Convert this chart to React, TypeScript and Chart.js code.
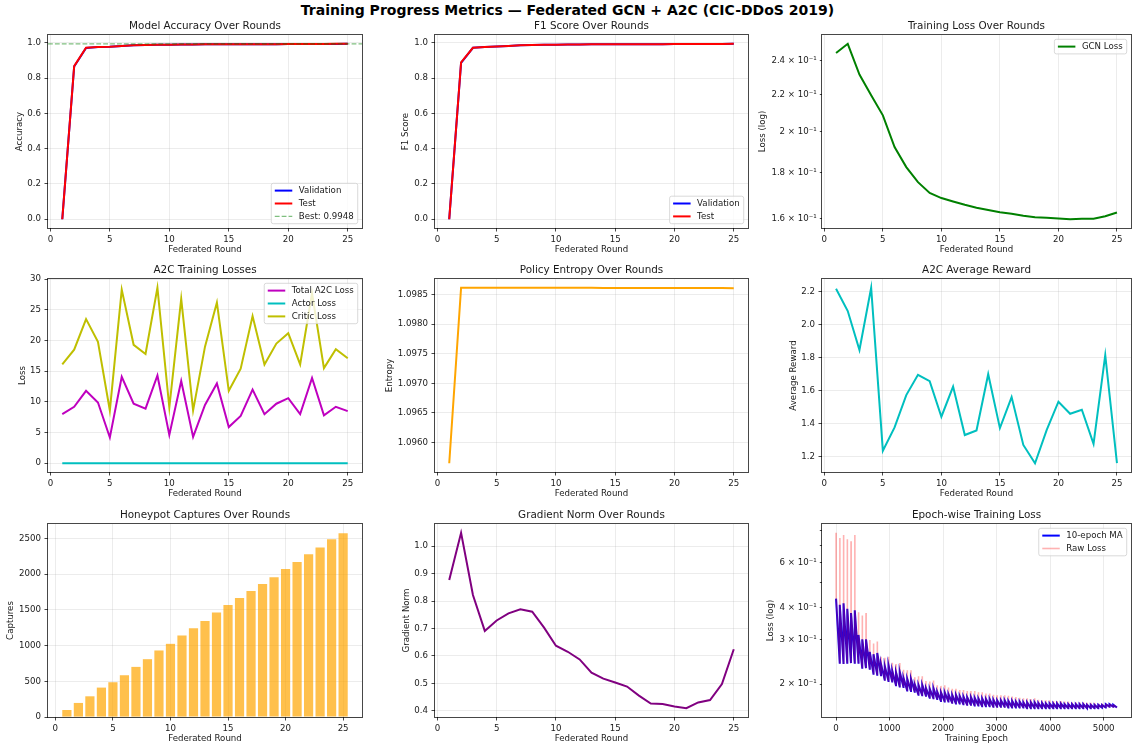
import React, { useEffect, useRef } from 'react';
import { Chart, registerables } from 'chart.js';

Chart.register(...registerables);

const FONT = "'DejaVu Sans', sans-serif";
const TXT = '#1a1a1a';
const GRID = 'rgba(176,176,176,0.3)';
const TICK = '#333333';
const LW = 2;

// ---------------- data ----------------
const ROUNDS = [1, 2, 3, 4, 5, 6, 7, 8, 9, 10, 11, 12, 13, 14, 15, 16, 17, 18, 19, 20, 21, 22, 23, 24, 25];
const ROUND_TICKS = [0, 5, 10, 15, 20, 25];

const VAL_ACC = [0.0, 0.866, 0.971, 0.977, 0.978, 0.982, 0.986, 0.988, 0.989, 0.99, 0.991, 0.991, 0.992, 0.992, 0.992, 0.993, 0.993, 0.993, 0.993, 0.994, 0.994, 0.994, 0.994, 0.994, 0.995];
const TEST_ACC = [0.0, 0.868, 0.972, 0.977, 0.978, 0.982, 0.987, 0.988, 0.989, 0.99, 0.991, 0.991, 0.992, 0.992, 0.992, 0.993, 0.993, 0.993, 0.993, 0.994, 0.994, 0.994, 0.994, 0.9945, 0.9948];
const BEST_ACC = 0.9948;
const ACC_TICKS = [0, 0.2, 0.4, 0.6, 0.8, 1.0];

const VAL_F1 = [0.0, 0.886, 0.971, 0.976, 0.978, 0.981, 0.985, 0.987, 0.988, 0.989, 0.99, 0.99, 0.991, 0.991, 0.991, 0.992, 0.992, 0.992, 0.992, 0.993, 0.993, 0.993, 0.993, 0.993, 0.994];
const TEST_F1 = [0.0, 0.888, 0.971, 0.976, 0.978, 0.981, 0.985, 0.987, 0.988, 0.989, 0.99, 0.99, 0.991, 0.991, 0.991, 0.992, 0.992, 0.992, 0.992, 0.993, 0.993, 0.993, 0.993, 0.993, 0.994];

const GCN_LOSS = [0.2445, 0.2504, 0.2314, 0.2195, 0.2085, 0.1922, 0.1826, 0.1757, 0.1709, 0.1687, 0.1672, 0.1658, 0.1646, 0.1636, 0.1627, 0.1621, 0.1612, 0.1606, 0.1604, 0.1601, 0.1598, 0.16, 0.16, 0.161, 0.1626];
const GCN_TICKS = [0.16, 0.18, 0.2, 0.22, 0.24];
const GCN_TICK_LABELS = ['1.6 × 10⁻¹', '1.8 × 10⁻¹', '2 × 10⁻¹', '2.2 × 10⁻¹', '2.4 × 10⁻¹'];

const A2C_TOTAL = [8.0, 9.2, 11.8, 9.9, 4.2, 14.1, 9.7, 8.9, 14.3, 4.6, 13.4, 4.3, 9.5, 13.0, 5.9, 7.7, 12.0, 8.0, 9.7, 10.6, 8.0, 13.9, 7.8, 9.2, 8.5];
const ACTOR_LOSS = [0.0, 0.0, 0.0, 0.0, 0.0, 0.0, 0.0, 0.0, 0.0, 0.0, 0.0, 0.0, 0.0, 0.0, 0.0, 0.0, 0.0, 0.0, 0.0, 0.0, 0.0, 0.0, 0.0, 0.0, 0.0];
const CRITIC_LOSS = [16.1, 18.5, 23.5, 19.8, 8.6, 28.3, 19.3, 17.8, 28.6, 9.1, 26.8, 8.6, 19.0, 26.2, 11.8, 15.4, 24.0, 16.1, 19.5, 21.2, 16.1, 27.7, 15.5, 18.6, 17.1];
const A2C_TICKS = [0, 5, 10, 15, 20, 25, 30];

const ENTROPY = [1.09565, 1.098612, 1.098612, 1.098612, 1.098612, 1.098612, 1.098612, 1.098612, 1.098611, 1.098611, 1.098611, 1.098611, 1.098611, 1.09861, 1.09861, 1.09861, 1.09861, 1.09861, 1.098609, 1.098609, 1.098609, 1.098608, 1.098608, 1.098607, 1.098606];
const ENTROPY_TICKS = [1.096, 1.0965, 1.097, 1.0975, 1.098, 1.0985];

const REWARD = [2.216, 2.081, 1.845, 2.222, 1.234, 1.375, 1.571, 1.694, 1.656, 1.44, 1.623, 1.329, 1.357, 1.698, 1.371, 1.559, 1.269, 1.158, 1.36, 1.531, 1.458, 1.482, 1.275, 1.813, 1.158];
const REWARD_TICKS = [1.2, 1.4, 1.6, 1.8, 2.0, 2.2];

const CAPTURES = [98, 197, 290, 412, 487, 585, 702, 810, 932, 1025, 1142, 1245, 1344, 1465, 1568, 1667, 1765, 1863, 1957, 2074, 2172, 2280, 2374, 2491, 2575];
const CAPTURE_TICKS = [0, 500, 1000, 1500, 2000, 2500];

const GRAD_NORM = [0.877, 1.049, 0.822, 0.691, 0.729, 0.755, 0.77, 0.761, 0.703, 0.637, 0.615, 0.587, 0.539, 0.517, 0.503, 0.488, 0.455, 0.426, 0.424, 0.415, 0.409, 0.43, 0.439, 0.497, 0.624];
const GRAD_TICKS = [0.4, 0.5, 0.6, 0.7, 0.8, 0.9, 1.0];

// epoch-wise loss: 75 local-training cycles of 70 epochs each
const CYCLE_LEN = 70;
const RAW_PEAK = [
  0.785, 0.748, 0.77, 0.74, 0.727, 0.77,
  0.383, 0.372, 0.38, 0.298, 0.289, 0.294, 0.256, 0.254, 0.256, 0.243, 0.24, 0.242,
  0.228, 0.227, 0.227, 0.213, 0.215, 0.215, 0.206, 0.205, 0.207, 0.198, 0.197, 0.198,
  0.194, 0.192, 0.192, 0.19, 0.19, 0.188, 0.188, 0.188, 0.186, 0.186, 0.184, 0.184,
  0.182, 0.181, 0.181, 0.181, 0.18, 0.179, 0.178, 0.177, 0.176, 0.176, 0.175, 0.176,
  0.174, 0.173, 0.173, 0.173, 0.172, 0.172, 0.172, 0.171, 0.171, 0.17, 0.17, 0.17,
  0.17, 0.169, 0.169, 0.169, 0.168, 0.168, 0.168, 0.168, 0.167,
];
const MA_PEAK = [
  0.433, 0.41, 0.415, 0.395, 0.38, 0.39,
  0.312, 0.3, 0.3, 0.268, 0.262, 0.265, 0.24, 0.236, 0.238, 0.226, 0.223, 0.224,
  0.212, 0.21, 0.21, 0.2, 0.199, 0.199, 0.193, 0.192, 0.193, 0.187, 0.186, 0.186,
  0.183, 0.182, 0.182, 0.18, 0.179, 0.178, 0.178, 0.177, 0.176, 0.176, 0.175, 0.175,
  0.174, 0.173, 0.173, 0.173, 0.172, 0.172, 0.171, 0.171, 0.17, 0.17, 0.17, 0.17,
  0.169, 0.169, 0.168, 0.168, 0.168, 0.168, 0.168, 0.167, 0.167, 0.167, 0.167, 0.167,
  0.167, 0.166, 0.166, 0.166, 0.166, 0.166, 0.167, 0.167, 0.166,
];
const MA_LOW = [
  0.243, 0.242, 0.243, 0.242, 0.243, 0.243,
  0.232, 0.231, 0.23, 0.22, 0.218, 0.217, 0.208, 0.206, 0.205, 0.198, 0.196, 0.195,
  0.189, 0.188, 0.187, 0.182, 0.181, 0.18, 0.177, 0.176, 0.175, 0.172, 0.171, 0.171,
  0.169, 0.168, 0.168, 0.167, 0.166, 0.166, 0.165, 0.165, 0.164, 0.164, 0.164, 0.163,
  0.163, 0.163, 0.163, 0.162, 0.162, 0.162, 0.162, 0.162, 0.161, 0.161, 0.161, 0.161,
  0.161, 0.161, 0.161, 0.161, 0.161, 0.161, 0.161, 0.161, 0.161, 0.161, 0.161, 0.161,
  0.161, 0.161, 0.161, 0.161, 0.162, 0.162, 0.163, 0.163, 0.162,
];
const EPOCH_TICKS = [0, 1000, 2000, 3000, 4000, 5000];
const EPOCH_Y_TICKS = [0.2, 0.3, 0.4, 0.5, 0.6, 0.7, 0.8];
const EPOCH_Y_LABELS = ['2 × 10⁻¹', '3 × 10⁻¹', '4 × 10⁻¹', '', '6 × 10⁻¹', '', ''];

// ---------------- helpers ----------------
function linLimits(vals: number[]): [number, number] {
  const mn = Math.min(...vals);
  const mx = Math.max(...vals);
  const m = (mx - mn) * 0.05;
  return [mn - m, mx + m];
}
function logLimits(vals: number[]): [number, number] {
  const a = Math.log10(Math.min(...vals));
  const b = Math.log10(Math.max(...vals));
  const m = (b - a) * 0.05;
  return [Math.pow(10, a - m), Math.pow(10, b + m)];
}
function pts(xs: number[], ys: number[]) {
  return xs.map((x, i) => ({ x, y: ys[i] }));
}
function lineDs(label: string, data: any[], color: string, order: number, extra: any = {}) {
  return {
    label,
    data,
    borderColor: color,
    backgroundColor: color,
    borderWidth: LW,
    pointRadius: 0,
    pointHoverRadius: 0,
    tension: 0,
    fill: false,
    order,
    ...extra,
  };
}

type LegendItem = { label: string; color: string; width: number; dash?: number[] };

function legendPlugin(items: LegendItem[], loc: 'upper right' | 'lower right') {
  return {
    id: 'insideLegend',
    afterDatasetsDraw(chart: any) {
      const { ctx, chartArea: a } = chart;
      const fs = 8.65;
      ctx.save();
      ctx.font = `${fs}px ${FONT}`;
      let maxW = 0;
      items.forEach((it) => {
        maxW = Math.max(maxW, ctx.measureText(it.label).width);
      });
      const padL = 3.5, hl = 17.5, gap = 6.5, padR = 4, rowH = 12.9, padY = 7.3, ax = 4.3;
      const w = padL + hl + gap + maxW + padR;
      const h = (items.length - 1) * rowH + 2 * padY;
      const x = a.right - ax - w;
      const y = loc === 'upper right' ? a.top + ax : a.bottom - ax - h;
      ctx.beginPath();
      if (ctx.roundRect) ctx.roundRect(x, y, w, h, 2);
      else ctx.rect(x, y, w, h);
      ctx.fillStyle = 'rgba(255,255,255,0.8)';
      ctx.fill();
      ctx.lineWidth = 0.9;
      ctx.strokeStyle = 'rgba(204,204,204,0.8)';
      ctx.stroke();
      items.forEach((it, i) => {
        const cy = y + padY + i * rowH;
        ctx.beginPath();
        ctx.setLineDash(it.dash || []);
        ctx.strokeStyle = it.color;
        ctx.lineWidth = it.width;
        ctx.moveTo(x + padL, cy);
        ctx.lineTo(x + padL + hl, cy);
        ctx.stroke();
        ctx.setLineDash([]);
        ctx.fillStyle = TXT;
        ctx.textBaseline = 'middle';
        ctx.textAlign = 'left';
        ctx.fillText(it.label, x + padL + hl + gap, cy + 0.5);
      });
      ctx.restore();
    },
  };
}

const framePlugin = {
  id: 'frame',
  afterDatasetsDraw(chart: any) {
    const { ctx, chartArea: a } = chart;
    ctx.save();
    ctx.strokeStyle = 'rgba(0,0,0,0.72)';
    ctx.lineWidth = 1;
    const l = Math.round(a.left) - 0.5;
    const t = Math.round(a.top) - 0.5;
    const r = Math.round(a.right) + 0.5;
    const b = Math.round(a.bottom) + 0.5;
    ctx.strokeRect(l, t, r - l, b - t);
    ctx.restore();
  },
};

type AxisSpec = {
  type: 'linear' | 'logarithmic';
  min: number;
  max: number;
  ticks: number[];
  labels: (v: number, i: number) => string;
  title: string;
  grid: boolean;
  tickLen: number;
  pad: number;
};

function buildOptions(title: string, xa: AxisSpec, ya: AxisSpec, W: number, ypt: number) {
  const tickFont = { size: 8.65, family: FONT };
  const inRange = (a: AxisSpec) => a.ticks.filter((v) => v >= a.min - 1e-12 && v <= a.max + 1e-12);
  const xt = inRange(xa);
  const yt = inRange(ya);
  return {
    responsive: false,
    maintainAspectRatio: false,
    animation: false,
    events: [],
    layout: { padding: { left: 0, right: 3, top: 0, bottom: 0 } },
    plugins: {
      legend: { display: false },
      tooltip: { enabled: false },
      title: {
        display: true,
        text: title,
        fullSize: false,
        color: TXT,
        font: { size: 10.4, family: FONT, weight: 'normal', lineHeight: 1.2 },
        padding: { top: 4, bottom: 2.52 },
      },
    },
    scales: {
      x: {
        type: xa.type,
        min: xa.min,
        max: xa.max,
        offset: false,
        afterBuildTicks: (s: any) => {
          s.ticks = xt.map((v) => ({ value: v }));
        },
        afterFit: (s: any) => {
          s.height = 28;
        },
        ticks: {
          autoSkip: false,
          maxRotation: 0,
          minRotation: 0,
          padding: xa.pad,
          color: TXT,
          font: tickFont,
          callback: (v: number) => xa.labels(v, xa.ticks.indexOf(v)),
        },
        grid: {
          display: true,
          drawOnChartArea: xa.grid,
          color: GRID,
          lineWidth: 0.8,
          drawTicks: true,
          tickLength: xa.tickLen,
          tickColor: TICK,
          tickWidth: 0.9,
          offset: false,
        },
        border: { display: false },
        title: {
          display: true,
          text: xa.title,
          color: TXT,
          font: { size: 8.65, family: FONT, lineHeight: 1.2 },
          padding: { top: 0, bottom: 1 },
        },
      },
      y: {
        type: ya.type,
        min: ya.min,
        max: ya.max,
        afterBuildTicks: (s: any) => {
          s.ticks = yt.map((v) => ({ value: v }));
        },
        afterFit: (s: any) => {
          s.width = W;
        },
        ticks: {
          autoSkip: false,
          padding: ya.pad,
          color: TXT,
          font: tickFont,
          callback: (v: number) => ya.labels(v, ya.ticks.indexOf(v)),
        },
        grid: {
          display: true,
          drawOnChartArea: ya.grid,
          color: GRID,
          lineWidth: 0.8,
          drawTicks: true,
          tickLength: ya.tickLen,
          tickColor: TICK,
          tickWidth: 0.9,
        },
        border: { display: false },
        title: {
          display: true,
          text: ya.title,
          color: TXT,
          font: { size: 8.65, family: FONT, lineHeight: 1.2 },
          padding: { top: ypt, bottom: 0 },
        },
      },
    },
  };
}

const fmt = (d: number) => (v: number) => Number(v).toFixed(d);
const intFmt = (v: number) => String(Math.round(v));

const ROUND_X = (): AxisSpec => {
  const [mn, mx] = linLimits(ROUNDS);
  return { type: 'linear', min: mn, max: mx, ticks: ROUND_TICKS, labels: intFmt, title: 'Federated Round', grid: true, tickLen: 3.5, pad: 3 };
};
const linY = (vals: number[], ticks: number[], labels: (v: number, i: number) => string, title: string): AxisSpec => {
  const [mn, mx] = linLimits(vals);
  return { type: 'linear', min: mn, max: mx, ticks, labels, title, grid: true, tickLen: 3.5, pad: 3.5 };
};

type PanelSpec = {
  key: string;
  L: number;
  T: number;
  R: number;
  B: number;
  yTitleX: number;
  build: (W: number, ypt: number) => any;
};

const PANELS: PanelSpec[] = [
  {
    key: 'acc', L: 48, T: 35, R: 362, B: 228, yTitleX: 19.3,
    build: (W, ypt) => {
      const xa = ROUND_X();
      const ya = linY([...VAL_ACC, ...TEST_ACC, BEST_ACC], ACC_TICKS, fmt(1), 'Accuracy');
      const bestLabel = `Best: ${BEST_ACC.toFixed(4)}`;
      return {
        type: 'line',
        data: {
          datasets: [
            lineDs('Validation', pts(ROUNDS, VAL_ACC), '#0000ff', 3),
            lineDs('Test', pts(ROUNDS, TEST_ACC), '#ff0000', 2),
            lineDs(bestLabel, [{ x: xa.min, y: BEST_ACC }, { x: xa.max, y: BEST_ACC }], 'rgba(0,128,0,0.5)', 1, { borderWidth: 1.3, borderDash: [4.8, 2.1] }),
          ],
        },
        options: buildOptions('Model Accuracy Over Rounds', xa, ya, W, ypt),
        plugins: [framePlugin, legendPlugin([
          { label: 'Validation', color: '#0000ff', width: LW },
          { label: 'Test', color: '#ff0000', width: LW },
          { label: bestLabel, color: 'rgba(0,128,0,0.5)', width: 1.3, dash: [4.8, 2.1] },
        ], 'lower right')],
      };
    },
  },
  {
    key: 'f1', L: 435, T: 35, R: 748, B: 228, yTitleX: 406,
    build: (W, ypt) => ({
      type: 'line',
      data: {
        datasets: [
          lineDs('Validation', pts(ROUNDS, VAL_F1), '#0000ff', 2),
          lineDs('Test', pts(ROUNDS, TEST_F1), '#ff0000', 1),
        ],
      },
      options: buildOptions('F1 Score Over Rounds', ROUND_X(), linY([...VAL_F1, ...TEST_F1], ACC_TICKS, fmt(1), 'F1 Score'), W, ypt),
      plugins: [framePlugin, legendPlugin([
        { label: 'Validation', color: '#0000ff', width: LW },
        { label: 'Test', color: '#ff0000', width: LW },
      ], 'lower right')],
    }),
  },
  {
    key: 'gcn', L: 822, T: 35, R: 1131, B: 228, yTitleX: 762.7,
    build: (W, ypt) => {
      const [mn, mx] = logLimits(GCN_LOSS);
      const ya: AxisSpec = { type: 'logarithmic', min: mn, max: mx, ticks: GCN_TICKS, labels: (_v, i) => GCN_TICK_LABELS[i] ?? '', title: 'Loss (log)', grid: false, tickLen: 2.2, pad: 3 };
      return {
        type: 'line',
        data: { datasets: [lineDs('GCN Loss', pts(ROUNDS, GCN_LOSS), '#008000', 1)] },
        options: buildOptions('Training Loss Over Rounds', ROUND_X(), ya, W, ypt),
        plugins: [framePlugin, legendPlugin([{ label: 'GCN Loss', color: '#008000', width: LW }], 'upper right')],
      };
    },
  },
  {
    key: 'a2c', L: 48, T: 279, R: 362, B: 472, yTitleX: 22.7,
    build: (W, ypt) => ({
      type: 'line',
      data: {
        datasets: [
          lineDs('Total A2C Loss', pts(ROUNDS, A2C_TOTAL), '#bf00bf', 3),
          lineDs('Actor Loss', pts(ROUNDS, ACTOR_LOSS), '#00bfbf', 2),
          lineDs('Critic Loss', pts(ROUNDS, CRITIC_LOSS), '#bfbf00', 1),
        ],
      },
      options: buildOptions('A2C Training Losses', ROUND_X(), linY([...A2C_TOTAL, ...ACTOR_LOSS, ...CRITIC_LOSS], A2C_TICKS, intFmt, 'Loss'), W, ypt),
      plugins: [framePlugin, legendPlugin([
        { label: 'Total A2C Loss', color: '#bf00bf', width: LW },
        { label: 'Actor Loss', color: '#00bfbf', width: LW },
        { label: 'Critic Loss', color: '#bfbf00', width: LW },
      ], 'upper right')],
    }),
  },
  {
    key: 'entropy', L: 435, T: 279, R: 748, B: 472, yTitleX: 390,
    build: (W, ypt) => ({
      type: 'line',
      data: { datasets: [lineDs('Entropy', pts(ROUNDS, ENTROPY), '#ffa500', 1)] },
      options: buildOptions('Policy Entropy Over Rounds', ROUND_X(), linY(ENTROPY, ENTROPY_TICKS, fmt(4), 'Entropy'), W, ypt),
      plugins: [framePlugin],
    }),
  },
  {
    key: 'reward', L: 822, T: 279, R: 1131, B: 472, yTitleX: 793.3,
    build: (W, ypt) => ({
      type: 'line',
      data: { datasets: [lineDs('Reward', pts(ROUNDS, REWARD), '#00bfbf', 1)] },
      options: buildOptions('A2C Average Reward', ROUND_X(), linY(REWARD, REWARD_TICKS, fmt(1), 'Average Reward'), W, ypt),
      plugins: [framePlugin],
    }),
  },
  {
    key: 'captures', L: 48, T: 524, R: 362, B: 717, yTitleX: 11,
    build: (W, ypt) => {
      const [xmn, xmx] = linLimits([ROUNDS[0] - 0.4, ROUNDS[ROUNDS.length - 1] + 0.4]);
      const xa: AxisSpec = { type: 'linear', min: xmn, max: xmx, ticks: ROUND_TICKS, labels: intFmt, title: 'Federated Round', grid: true, tickLen: 3.5, pad: 3 };
      const ya: AxisSpec = { type: 'linear', min: 0, max: Math.max(...CAPTURES) * 1.05, ticks: CAPTURE_TICKS, labels: intFmt, title: 'Captures', grid: true, tickLen: 3.5, pad: 3.5 };
      return {
        type: 'bar',
        data: {
          datasets: [
            {
              label: 'Captures',
              data: pts(ROUNDS, CAPTURES),
              backgroundColor: 'rgba(255,165,0,0.7)',
              borderWidth: 0,
              barPercentage: 1,
              categoryPercentage: 0.8,
            },
          ],
        },
        options: buildOptions('Honeypot Captures Over Rounds', xa, ya, W, ypt),
        plugins: [framePlugin],
      };
    },
  },
  {
    key: 'grad', L: 435, T: 524, R: 748, B: 717, yTitleX: 406.7,
    build: (W, ypt) => ({
      type: 'line',
      data: { datasets: [lineDs('Gradient Norm', pts(ROUNDS, GRAD_NORM), '#800080', 1)] },
      options: buildOptions('Gradient Norm Over Rounds', ROUND_X(), linY(GRAD_NORM, GRAD_TICKS, fmt(1), 'Gradient Norm'), W, ypt),
      plugins: [framePlugin],
    }),
  },
  {
    key: 'epoch', L: 822, T: 524, R: 1131, B: 717, yTitleX: 770.7,
    build: (W, ypt) => {
      const maPts: { x: number; y: number }[] = [];
      const rawPts: { x: number; y: number }[] = [];
      MA_PEAK.forEach((pk, c) => {
        const s = c * CYCLE_LEN;
        const e = s + CYCLE_LEN - 1;
        maPts.push({ x: s, y: pk }, { x: e, y: MA_LOW[c] });
        rawPts.push({ x: s, y: RAW_PEAK[c] }, { x: s + 3, y: pk }, { x: e, y: MA_LOW[c] });
      });
      const lastEpoch = MA_PEAK.length * CYCLE_LEN - 1;
      const [xmn, xmx] = linLimits([0, lastEpoch]);
      const [ymn, ymx] = logLimits([...RAW_PEAK, ...MA_LOW]);
      const xa: AxisSpec = { type: 'linear', min: xmn, max: xmx, ticks: EPOCH_TICKS, labels: intFmt, title: 'Training Epoch', grid: true, tickLen: 3.5, pad: 3 };
      const ya: AxisSpec = { type: 'logarithmic', min: ymn, max: ymx, ticks: EPOCH_Y_TICKS, labels: (_v, i) => EPOCH_Y_LABELS[i] ?? '', title: 'Loss (log)', grid: false, tickLen: 2.2, pad: 3 };
      return {
        type: 'line',
        data: {
          datasets: [
            lineDs('10-epoch MA', maPts, '#0000ff', 2),
            lineDs('Raw Loss', rawPts, 'rgba(255,0,0,0.3)', 1, { borderWidth: 1.6 }),
          ],
        },
        options: buildOptions('Epoch-wise Training Loss', xa, ya, W, ypt),
        plugins: [framePlugin, legendPlugin([
          { label: '10-epoch MA', color: '#0000ff', width: LW },
          { label: 'Raw Loss', color: 'rgba(255,0,0,0.3)', width: 1.6 },
        ], 'upper right')],
      };
    },
  },
];

function ChartPanel({ spec }: { spec: PanelSpec }) {
  const ref = useRef<HTMLCanvasElement | null>(null);
  const half = (8.65 * 1.2) / 2;
  const cl = Math.floor(spec.yTitleX - half);
  const ypt = spec.yTitleX - half - cl;
  const W = spec.L - cl;
  const cw = W + (spec.R - spec.L) + 3;
  const ch = 19 + (spec.B - spec.T) + 28;
  useEffect(() => {
    if (!ref.current) return;
    const chart = new Chart(ref.current, spec.build(W, ypt));
    return () => chart.destroy();
  }, []);
  return (
    <canvas
      ref={ref}
      width={cw}
      height={ch}
      style={{ position: 'absolute', left: cl, top: spec.T - 19, width: cw, height: ch }}
    />
  );
}

export default function App() {
  Chart.defaults.font.family = FONT;
  return (
    <div
      style={{
        position: 'absolute',
        left: 0,
        top: 0,
        width: 1135,
        height: 747,
        background: '#ffffff',
        overflow: 'hidden',
      }}
    >
      <div
        style={{
          position: 'absolute',
          left: 0,
          top: 2,
          width: 1135,
          textAlign: 'center',
          fontFamily: FONT,
          fontWeight: 'bold',
          fontSize: 14,
          lineHeight: '16px',
          color: '#000',
        }}
      >
        Training Progress Metrics — Federated GCN + A2C (CIC-DDoS 2019)
      </div>
      {PANELS.map((p) => (
        <ChartPanel key={p.key} spec={p} />
      ))}
    </div>
  );
}
